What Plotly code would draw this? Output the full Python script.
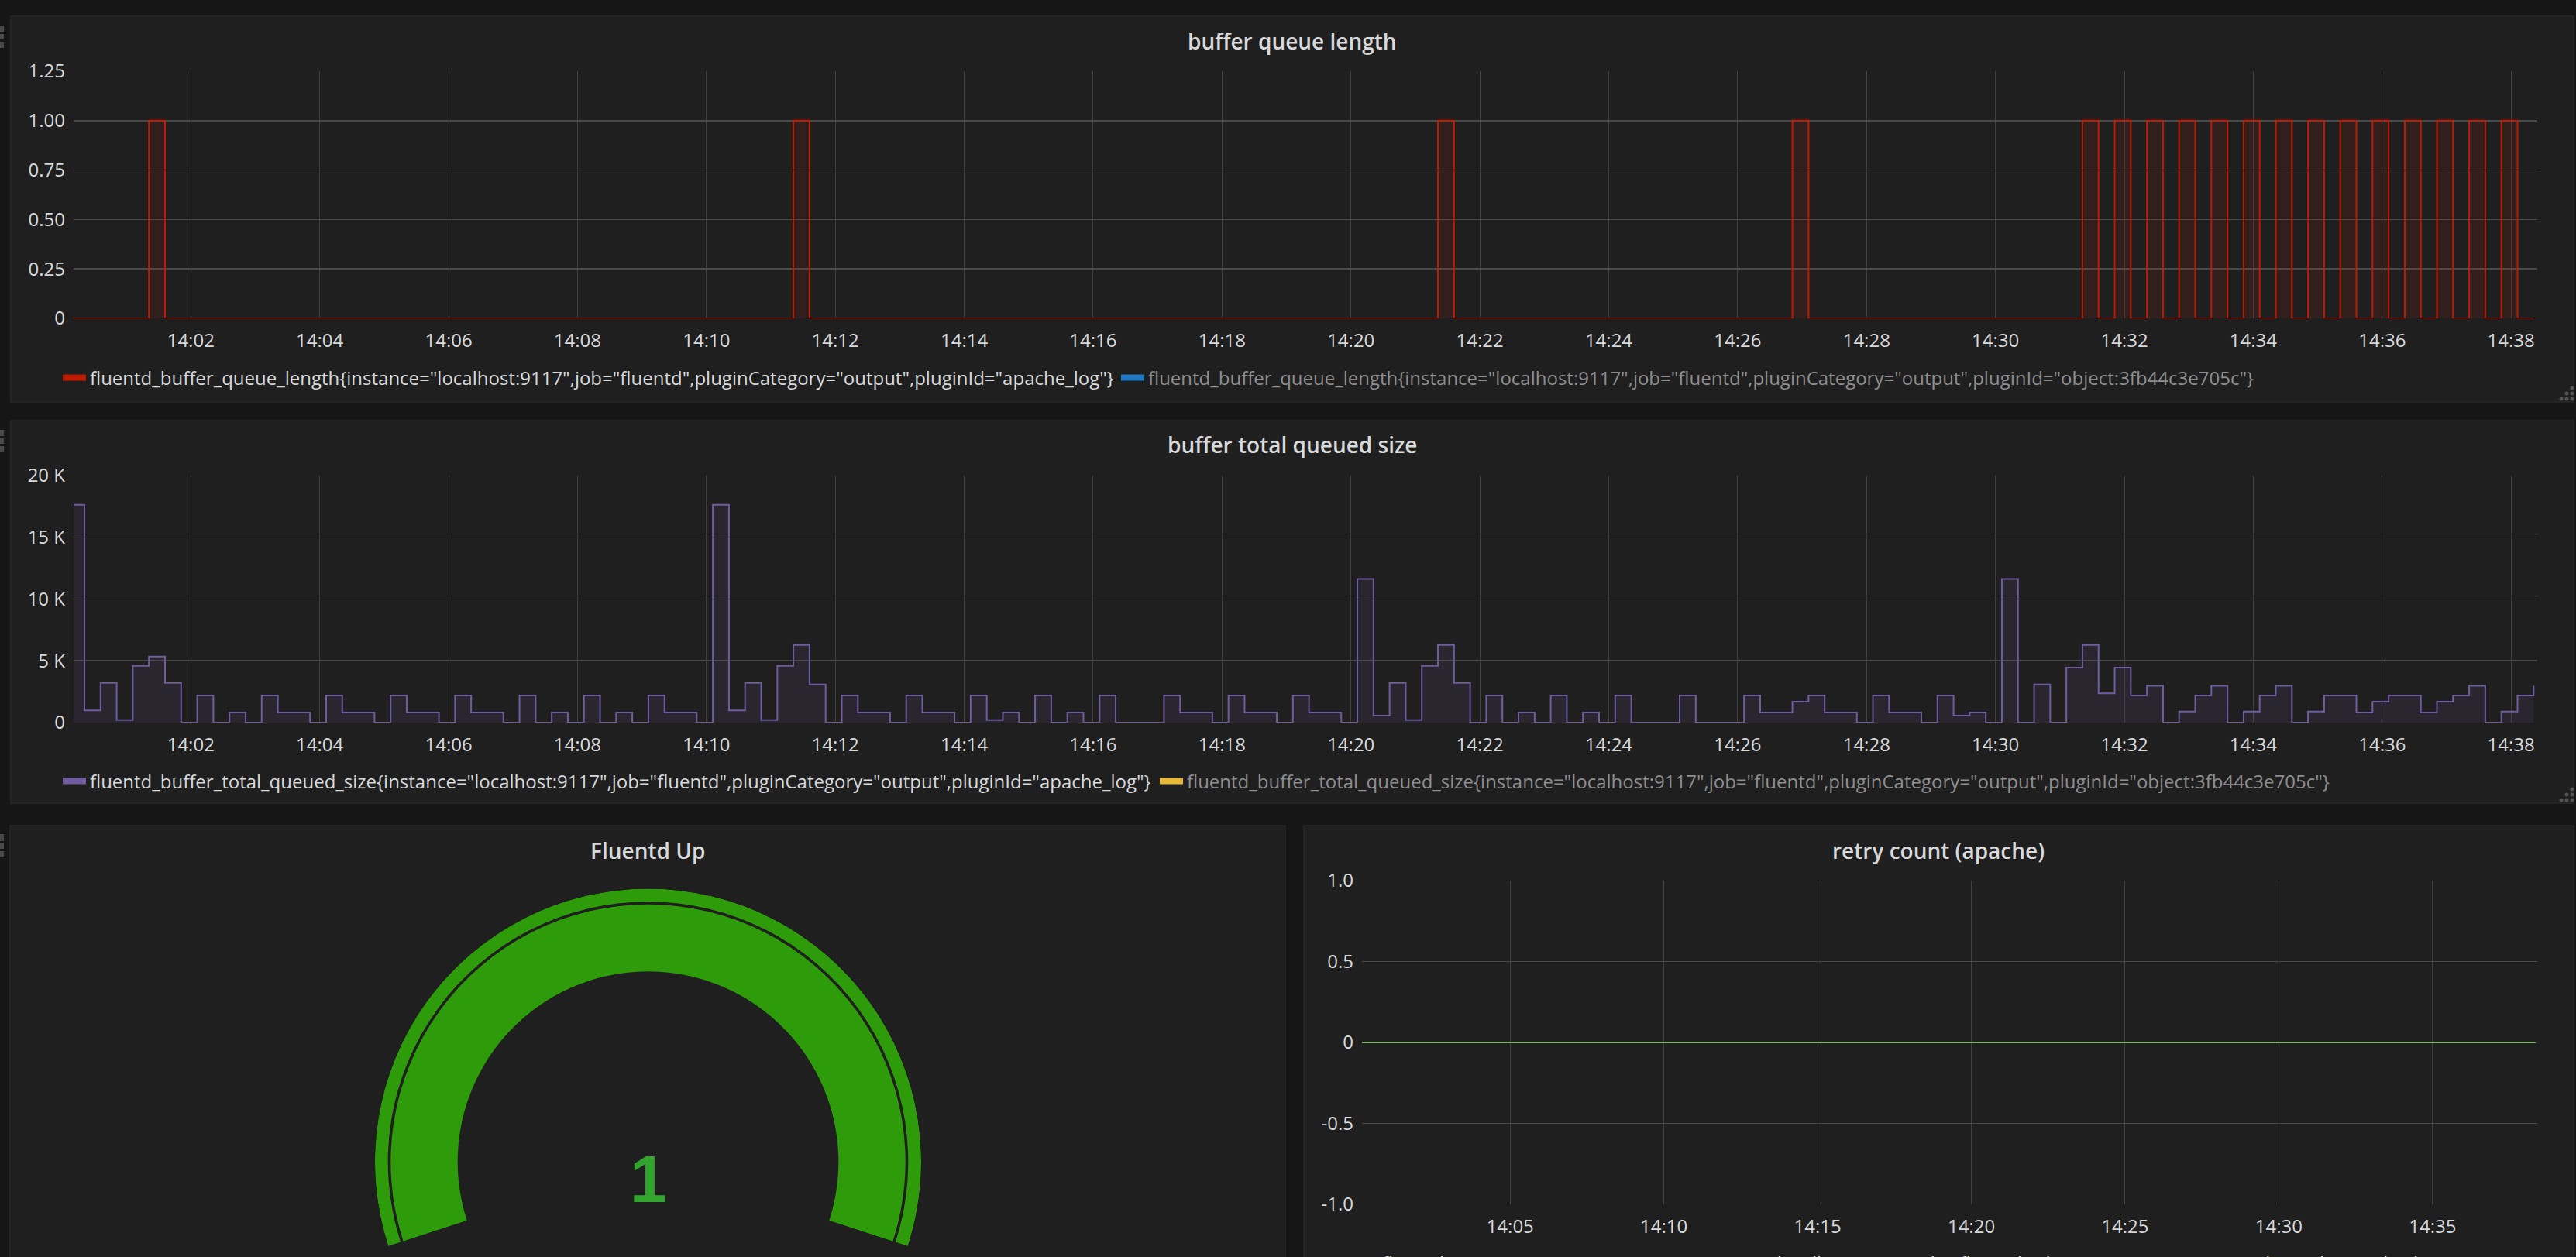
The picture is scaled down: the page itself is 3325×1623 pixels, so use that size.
import plotly.graph_objects as go
import pandas as pd

W, H = 3325, 1623

# ------------------------------------------------------------------ data
sample_start = "2017-08-01 14:00:06"
sample_step = "15s"
view_start = "2017-08-01 14:00:10.9"
view_end = "2017-08-01 14:38:24.4"

# fluentd_buffer_queue_length (apache_log), one value per 15 s sample
queue_length_apache = [
    0, 0, 0, 0, 0, 1, 0, 0, 0, 0, 0, 0, 0, 0, 0, 0, 0, 0, 0, 0,
    0, 0, 0, 0, 0, 0, 0, 0, 0, 0, 0, 0, 0, 0, 0, 0, 0, 0, 0, 0,
    0, 0, 0, 0, 0, 1, 0, 0, 0, 0, 0, 0, 0, 0, 0, 0, 0, 0, 0, 0,
    0, 0, 0, 0, 0, 0, 0, 0, 0, 0, 0, 0, 0, 0, 0, 0, 0, 0, 0, 0,
    0, 0, 0, 0, 0, 1, 0, 0, 0, 0, 0, 0, 0, 0, 0, 0, 0, 0, 0, 0,
    0, 0, 0, 0, 0, 0, 0, 1, 0, 0, 0, 0, 0, 0, 0, 0, 0, 0, 0, 0,
    0, 0, 0, 0, 0, 1, 0, 1, 0, 1, 0, 1, 0, 1, 0, 1, 0, 1, 0, 1,
    0, 1, 0, 1, 0, 1, 0, 1, 0, 1, 0, 1, 0, 0,
]

# fluentd_buffer_total_queued_size (apache_log), in thousands, per 15 s sample
queued_size_apache_k = [
    17.62, 0.98, 3.21, 0.21, 4.59, 5.34, 3.21, 0, 2.19, 0,
    0.81, 0, 2.19, 0.81, 0.81, 0, 2.19, 0.81, 0.81, 0,
    2.19, 0.81, 0.81, 0, 2.19, 0.81, 0.81, 0, 2.19, 0,
    0.81, 0, 2.19, 0, 0.81, 0, 2.19, 0.81, 0.81, 0,
    17.62, 0.98, 3.21, 0.21, 4.59, 6.28, 3.09, 0, 2.19, 0.81,
    0.81, 0, 2.19, 0.81, 0.81, 0, 2.19, 0.21, 0.81, 0,
    2.19, 0, 0.81, 0, 2.19, 0, 0, 0, 2.19, 0.81,
    0.81, 0, 2.19, 0.81, 0.81, 0, 2.19, 0.81, 0.81, 0,
    11.62, 0.56, 3.21, 0.21, 4.59, 6.28, 3.21, 0, 2.19, 0,
    0.81, 0, 2.19, 0, 0.81, 0, 2.19, 0, 0, 0,
    2.19, 0, 0, 0, 2.19, 0.81, 0.81, 1.69, 2.19, 0.81,
    0.81, 0, 2.19, 0.81, 0.81, 0, 2.19, 0.56, 0.81, 0,
    11.62, 0, 3.09, 0, 4.44, 6.28, 2.36, 4.44, 2.19, 2.98,
    0, 0.9, 2.19, 2.98, 0, 0.9, 2.19, 2.98, 0, 0.9,
    2.19, 2.19, 0.81, 1.69, 2.19, 2.19, 0.81, 1.69, 2.19, 2.98,
    0, 0.9, 2.19, 2.98,
]

# fluentd_output_status_retry_count (apache_log), per 15 s sample
retry_count_apache = [
    0, 0, 0, 0, 0, 0, 0, 0, 0, 0, 0, 0, 0, 0, 0, 0, 0, 0, 0, 0, 0, 0,
    0, 0, 0, 0, 0, 0, 0, 0, 0, 0, 0, 0, 0, 0, 0, 0, 0, 0, 0, 0, 0, 0,
    0, 0, 0, 0, 0, 0, 0, 0, 0, 0, 0, 0, 0, 0, 0, 0, 0, 0, 0, 0, 0, 0,
    0, 0, 0, 0, 0, 0, 0, 0, 0, 0, 0, 0, 0, 0, 0, 0, 0, 0, 0, 0, 0, 0,
    0, 0, 0, 0, 0, 0, 0, 0, 0, 0, 0, 0, 0, 0, 0, 0, 0, 0, 0, 0, 0, 0,
    0, 0, 0, 0, 0, 0, 0, 0, 0, 0, 0, 0, 0, 0, 0, 0, 0, 0, 0, 0, 0, 0,
    0, 0, 0, 0, 0, 0, 0, 0, 0, 0, 0, 0, 0, 0, 0, 0, 0, 0, 0, 0, 0, 0,
]

# Fluentd Up gauge
gauge_value = 1
gauge_min = 0
gauge_max = 1

# tick labels
queue_ticks = [0, 0.25, 0.5, 0.75, 1.0, 1.25]
queue_tick_text = ["0", "0.25", "0.50", "0.75", "1.00", "1.25"]
size_ticks = [0, 5000, 10000, 15000, 20000]
size_tick_text = ["0", "5 K", "10 K", "15 K", "20 K"]
retry_ticks = [-1, -0.5, 0, 0.5, 1]
retry_tick_text = ["-1.0", "-0.5", "0", "0.5", "1.0"]

panel_titles = ["buffer queue length", "buffer total queued size",
                "Fluentd Up", "retry count (apache)"]

series_names = {
    "ql_apache": 'fluentd_buffer_queue_length{instance="localhost:9117",job="fluentd",pluginCategory="output",pluginId="apache_log"}',
    "ql_object": 'fluentd_buffer_queue_length{instance="localhost:9117",job="fluentd",pluginCategory="output",pluginId="object:3fb44c3e705c"}',
    "qs_apache": 'fluentd_buffer_total_queued_size{instance="localhost:9117",job="fluentd",pluginCategory="output",pluginId="apache_log"}',
    "qs_object": 'fluentd_buffer_total_queued_size{instance="localhost:9117",job="fluentd",pluginCategory="output",pluginId="object:3fb44c3e705c"}',
    "retry_apache": 'fluentd_output_status_retry_count{instance="localhost:9117",job="fluentd",pluginCategory="output",pluginId="apache_log"}',
}

# ------------------------------------------------------------------ style
PAGE_BG = "#161616"
PANEL_BG = "#1f1f20"
PANEL_BORDER = "#292929"
TEXT = "#d8d9da"
TEXT_DIM = "#8e8e8e"
GRID_H = "#4a4a4a"
GRID_V = "#404040"
RED = "#bf1b00"
PURPLE = "#705da0"
BLUE = "#1f78c1"
YELLOW = "#eab839"
GREEN_LINE = "#7eb26d"
GAUGE_GREEN = "#2e9c0a"
VALUE_GREEN = "#31a52d"
HANDLE = "#4a4a4a"
FONT = "Open Sans"


def fx(p):
    return p / W


def fy(p):
    return 1 - p / H


times = pd.date_range(sample_start, periods=len(queued_size_apache_k), freq=sample_step)
queued_size_apache = [v * 1000 for v in queued_size_apache_k]

fig = go.Figure()

# --- panel 1: buffer queue length
fig.add_trace(go.Scatter(
    x=times, y=queue_length_apache, mode="lines",
    line=dict(color=RED, width=2, shape="hv"),
    fill="tozeroy", fillcolor="rgba(191,27,0,0.12)",
    xaxis="x", yaxis="y", showlegend=False, hoverinfo="skip"))

# --- panel 2: buffer total queued size
fig.add_trace(go.Scatter(
    x=times, y=queued_size_apache, mode="lines",
    line=dict(color=PURPLE, width=2, shape="hv"),
    fill="tozeroy", fillcolor="rgba(112,93,160,0.12)",
    xaxis="x2", yaxis="y2", showlegend=False, hoverinfo="skip"))

# --- panel 4: retry count
fig.add_trace(go.Scatter(
    x=times, y=retry_count_apache, mode="lines",
    line=dict(color=GREEN_LINE, width=2),
    xaxis="x3", yaxis="y3", showlegend=False, hoverinfo="skip"))

# --- legend entries (one legend per entry so each sits where Grafana puts it)
legend_specs = [
    # key, colour, text colour, text start x px, centre y px, axes
    ("ql_apache", RED, TEXT, 117, 488, "x", "y"),
    ("ql_object", BLUE, TEXT_DIM, 1483, 488, "x", "y"),
    ("qs_apache", PURPLE, TEXT, 117, 1009, "x2", "y2"),
    ("qs_object", YELLOW, TEXT_DIM, 1533, 1009, "x2", "y2"),
    ("retry_apache", GREEN_LINE, TEXT, 1785, 1631, "x3", "y3"),
]
LEGEND_TEXT_OFFSET = 41
legend_layouts = {}
for i, (key, col, tcol, tx, ty, xa, ya) in enumerate(legend_specs):
    lname = "legend" if i == 0 else "legend%d" % (i + 1)
    fig.add_trace(go.Scatter(
        x=[None], y=[None], mode="lines", name=series_names[key],
        line=dict(color=col, width=8), xaxis=xa, yaxis=ya,
        legend=lname, showlegend=True, hoverinfo="skip"))
    legend_layouts[lname] = dict(
        x=fx(tx - LEGEND_TEXT_OFFSET), y=fy(ty), xanchor="left", yanchor="middle",
        orientation="h", bgcolor="rgba(0,0,0,0)", borderwidth=0,
        font=dict(family=FONT, size=24, color=tcol), itemwidth=30,
        itemclick=False, itemdoubleclick=False)

# --- panel 3: gauge (polar bars)
SWEEP = 216.0
START_DEG = 90 + SWEEP / 2
frac = (gauge_value - gauge_min) / (gauge_max - gauge_min)
R_OUT, RING_IN, BAND_OUT, BAND_IN = 352.5, 335.8, 332.2, 245.8
fig.add_trace(go.Barpolar(
    r=[R_OUT - RING_IN], base=[RING_IN], theta=[90], width=[SWEEP],
    marker=dict(color=GAUGE_GREEN, line=dict(width=0)),
    subplot="polar", showlegend=False, hoverinfo="skip"))
fig.add_trace(go.Barpolar(
    r=[BAND_OUT - BAND_IN], base=[BAND_IN],
    theta=[START_DEG - frac * SWEEP / 2], width=[frac * SWEEP],
    marker=dict(color=GAUGE_GREEN, line=dict(width=0)),
    subplot="polar", showlegend=False, hoverinfo="skip"))

# ------------------------------------------------------------------ layout
tickfont = dict(family=FONT, size=24, color=TEXT)


def xax(x0, x1, anchor, dtick):
    return dict(domain=[fx(x0), fx(x1)], anchor=anchor, type="date",
                range=[view_start, view_end], tickformat="%H:%M",
                tick0="2017-08-01 14:00:00", dtick=dtick,
                showgrid=True, gridcolor=GRID_V, gridwidth=1,
                zeroline=False, showline=False, ticks="",
                ticklabelstandoff=12, tickfont=tickfont, fixedrange=True)


def yax(y_top, y_bot, anchor, rng, vals, text):
    return dict(domain=[fy(y_bot), fy(y_top)], anchor=anchor, range=rng,
                tickmode="array", tickvals=vals, ticktext=text,
                showgrid=True, gridcolor=GRID_H, gridwidth=1.5,
                zeroline=False, showline=False, ticks="",
                ticklabelstandoff=10, tickfont=tickfont, fixedrange=True)


panel_boxes = [(14, 21, 3322, 519), (14, 543, 3322, 1037),
               (13, 1066, 1659, 1700), (1683, 1066, 3322, 1700)]
shapes = []
for (x0, y0, x1, y1) in panel_boxes:
    shapes.append(dict(type="rect", xref="paper", yref="paper", layer="below",
                       x0=fx(x0), x1=fx(x1), y0=fy(y1), y1=fy(y0),
                       fillcolor=PANEL_BG, line=dict(color=PANEL_BORDER, width=1.5)))
# small drag handles at the left of the panels
for (ya, yb) in [(33, 41), (44, 51), (54, 62), (555, 563), (566, 573), (576, 583),
                 (1077, 1086), (1088, 1096), (1099, 1107)]:
    shapes.append(dict(type="rect", xref="paper", yref="paper", layer="below",
                       x0=fx(0), x1=fx(5), y0=fy(yb), y1=fy(ya),
                       fillcolor=HANDLE, line=dict(width=0)))
# resize-handle dots at the bottom-right of the two wide panels
for base_y in (515, 1033):
    for (dx, dy) in [(0, 0), (7, 0), (14, 0), (7, -7), (14, -7), (14, -14)]:
        cx, cy = 3306 + dx, base_y + dy
        shapes.append(dict(type="circle", xref="paper", yref="paper", layer="below",
                           x0=fx(cx - 2.5), x1=fx(cx + 2.5),
                           y0=fy(cy + 2.5), y1=fy(cy - 2.5),
                           fillcolor="#555555", line=dict(width=0)))

title_pos = [(1668, 53), (1668, 574), (836, 1098), (2502, 1098)]
annotations = []
for t, (px, py) in zip(panel_titles, title_pos):
    annotations.append(dict(text=t, x=fx(px), y=fy(py), xref="paper", yref="paper",
                            xanchor="center", yanchor="middle", showarrow=False,
                            font=dict(family=FONT, size=28, color=TEXT, weight=600)))
annotations.append(dict(text=str(gauge_value), x=fx(836.5), y=fy(1522),
                        xref="paper", yref="paper", xanchor="center", yanchor="middle",
                        showarrow=False,
                        font=dict(family="Liberation Sans", size=86,
                                  color=VALUE_GREEN, weight="bold")))

fig.update_layout(
    width=W, height=H,
    margin=dict(l=0, r=0, t=0, b=0, autoexpand=False),
    paper_bgcolor=PAGE_BG, plot_bgcolor="rgba(0,0,0,0)",
    font=dict(family=FONT, color=TEXT),
    hovermode=False, dragmode=False,
    xaxis=xax(95, 3275, "y", 120000),
    yaxis=yax(92, 411, "x", [0, 1.25], queue_ticks, queue_tick_text),
    xaxis2=xax(95, 3275, "y2", 120000),
    yaxis2=yax(613.7, 933, "x2", [0, 20000], size_ticks, size_tick_text),
    xaxis3=xax(1758, 3275, "y3", 300000),
    yaxis3=yax(1137, 1555, "x3", [-1, 1], retry_ticks, retry_tick_text),
    polar=dict(domain=dict(x=[fx(484), fx(1189)], y=[fy(1609), fy(1147.5)]),
               sector=[START_DEG - SWEEP, START_DEG], hole=0,
               bgcolor="rgba(0,0,0,0)", barmode="overlay",
               radialaxis=dict(visible=False, range=[0, R_OUT]),
               angularaxis=dict(visible=False, rotation=0,
                                direction="counterclockwise")),
    shapes=shapes, annotations=annotations,
    **legend_layouts,
)

fig.write_html(
    "out.html",
    config={"displayModeBar": False, "staticPlot": True},
    post_script="document.body.style.margin='0';document.body.style.padding='0';"
                "document.body.style.background='#161616';"
                "document.body.style.overflow='hidden';",
)
